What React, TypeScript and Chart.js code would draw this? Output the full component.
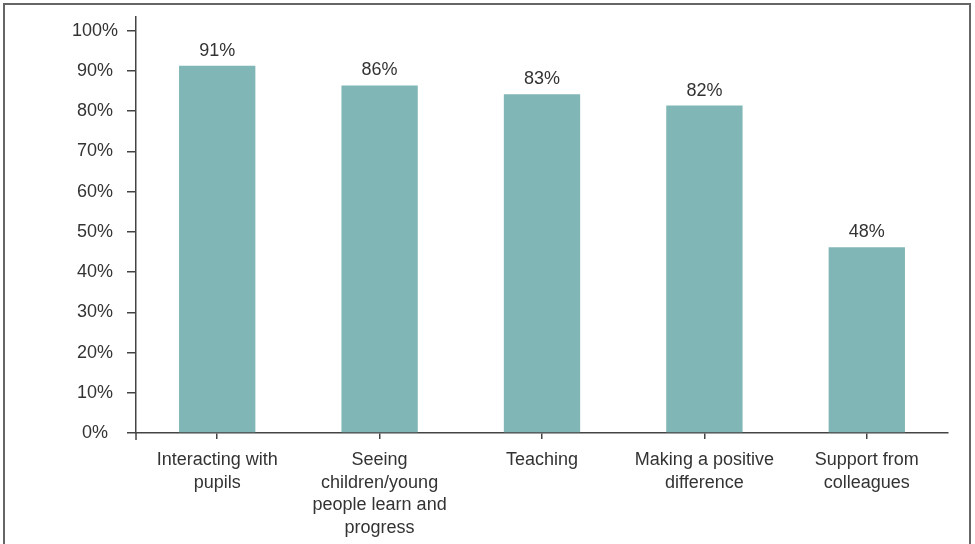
import React, { useEffect, useRef } from "react";
import { Chart, registerables } from "chart.js";

Chart.register(...registerables);

const categories: string[][] = [
  ["Interacting with", "pupils"],
  ["Seeing", "children/young", "people learn and", "progress"],
  ["Teaching"],
  ["Making a positive", "difference"],
  ["Support from", "colleagues"],
];
// Bar heights as drawn in the picture (percent)
const barValues: number[] = [91.3, 86.4, 84.2, 81.4, 46.2];
// Labels printed above the bars
const barLabels: string[] = ["91%", "86%", "83%", "82%", "48%"];
const yTickValues: number[] = [0, 10, 20, 30, 40, 50, 60, 70, 80, 90, 100];

const FONT = "'Liberation Sans', Arial, Helvetica, sans-serif";
const TEXT = "#333333";
const AXIS = "#444444";

const decorPlugin = {
  id: "decor",
  afterDraw(chart: any) {
    const ctx = chart.ctx;
    const area = chart.chartArea;
    ctx.save();
    // outer frame
    ctx.strokeStyle = "#666666";
    ctx.lineWidth = 2;
    ctx.strokeRect(4, 4, 966, 600);
    // y axis extension below x axis
    ctx.strokeStyle = AXIS;
    ctx.lineWidth = 1.5;
    ctx.beginPath();
    ctx.moveTo(area.left, area.bottom);
    ctx.lineTo(area.left, area.bottom + 7);
    ctx.stroke();
    // value labels
    const meta = chart.getDatasetMeta(0);
    ctx.fillStyle = TEXT;
    ctx.font = `18px ${FONT}`;
    ctx.textAlign = "center";
    ctx.textBaseline = "alphabetic";
    meta.data.forEach((bar: any, i: number) => {
      ctx.fillText(barLabels[i], bar.x, bar.y - 10);
    });
    ctx.restore();
  },
};

export default function App() {
  const ref = useRef<HTMLCanvasElement | null>(null);

  useEffect(() => {
    document.body.style.margin = "0";
    const canvas = ref.current;
    if (!canvas) return;
    const chart = new Chart(canvas, {
      type: "bar",
      data: {
        labels: categories as any,
        datasets: [
          {
            data: barValues,
            backgroundColor: "#80b6b5",
            borderWidth: 0,
            barPercentage: 0.47,
            categoryPercentage: 1,
          },
        ],
      },
      options: {
        responsive: false,
        animation: false,
        layout: { padding: { left: 0, right: 27, top: 17, bottom: 0 } },
        plugins: {
          legend: { display: false },
          tooltip: { enabled: false },
        },
        scales: {
          x: {
            offset: true,
            grid: {
              display: true,
              drawOnChartArea: false,
              drawTicks: true,
              tickLength: 6,
              offset: false,
              color: AXIS,
              lineWidth: 1.5,
            },
            border: { display: true, color: AXIS, width: 1.5 },
            ticks: {
              color: TEXT,
              font: { family: FONT, size: 18, lineHeight: 1.25 },
              maxRotation: 0,
              minRotation: 0,
              autoSkip: false,
              padding: 10,
            },
            afterFit: (scale: any) => {
              scale.height = 111;
              scale.paddingLeft = 0;
              scale.paddingRight = 0;
            },
          },
          y: {
            min: 0,
            max: 103.4,
            afterBuildTicks: (scale: any) => {
              scale.ticks = yTickValues.map((v) => ({ value: v }));
            },
            grid: {
              display: true,
              drawOnChartArea: false,
              drawTicks: true,
              tickLength: 9,
              color: AXIS,
              lineWidth: 1.5,
            },
            border: { display: true, color: AXIS, width: 1.5 },
            ticks: {
              color: TEXT,
              font: { family: FONT, size: 18 },
              crossAlign: "center",
              padding: 9,
              callback: (v: any) => `${v}%`,
            },
            afterFit: (scale: any) => {
              scale.width = 136;
              scale.paddingTop = 0;
              scale.paddingBottom = 0;
            },
          },
        },
      },
      plugins: [decorPlugin],
    });
    return () => chart.destroy();
  }, []);

  return (
    <div style={{ width: 975, height: 544, overflow: "hidden" }}>
      <canvas ref={ref} width={975} height={544} style={{ display: "block" }} />
    </div>
  );
}
